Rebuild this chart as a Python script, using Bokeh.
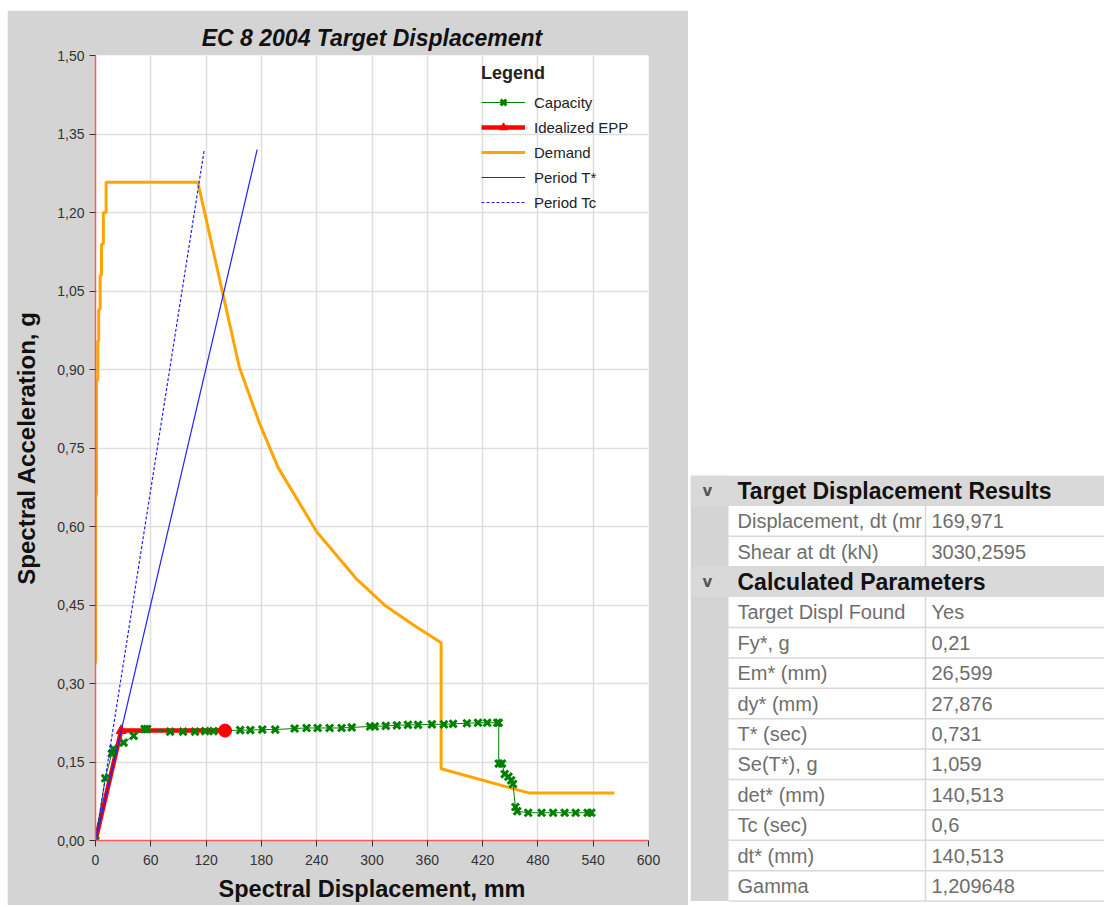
from bokeh.plotting import figure
from bokeh.models import Range1d, Legend, LegendItem, FixedTicker, Spacer
from bokeh.layouts import row, column
from bokeh.embed import file_html
from bokeh.resources import INLINE
from bokeh.core.properties import value

# ---------------- data ----------------
x_ticks = [0, 60, 120, 180, 240, 300, 360, 420, 480, 540, 600]
x_tick_labels = ["0", "60", "120", "180", "240", "300", "360", "420", "480", "540", "600"]
y_ticks = [0.0, 0.15, 0.3, 0.45, 0.6, 0.75, 0.9, 1.05, 1.2, 1.35, 1.5]
y_tick_labels = ["0,00", "0,15", "0,30", "0,45", "0,60", "0,75", "0,90", "1,05", "1,20", "1,35", "1,50"]

capacity_x = [0, 10.6, 17.7, 19.3, 30.5, 41.4, 53.3, 56, 81, 95, 108, 119, 128, 157, 168, 181, 195,
              216, 229, 241, 254, 267, 278, 298, 303, 315, 327, 339, 350, 365, 378, 388, 403, 415,
              425, 436, 437.5, 437.5, 441, 444, 448, 451, 453, 455.6, 457.5, 469.5, 484, 496.5, 509,
              521, 534, 538]
capacity_y = [0, 0.119, 0.166, 0.175, 0.187, 0.200, 0.213, 0.213, 0.208, 0.208, 0.208, 0.209, 0.209,
              0.211, 0.211, 0.212, 0.212, 0.214, 0.215, 0.215, 0.215, 0.215, 0.216, 0.218, 0.218,
              0.219, 0.220, 0.221, 0.221, 0.222, 0.222, 0.223, 0.224, 0.225, 0.225, 0.225, 0.225,
              0.147, 0.147, 0.127, 0.122, 0.115, 0.108, 0.064, 0.056, 0.053, 0.053, 0.053, 0.053,
              0.053, 0.053, 0.053]

epp_x = [0, 27.876, 140.513]
epp_y = [0, 0.21, 0.21]
target_x = [140.513]
target_y = [0.21]

demand_x = [0, 0, 1, 1, 2.5, 2.5, 3.5, 3.5, 5, 5, 6.5, 6.5, 8.5, 8.5, 11.5, 11.5, 111, 156, 178,
            198, 240, 283, 315, 345, 375, 375, 470, 563]
demand_y = [0.338, 0.66, 0.66, 0.88, 0.88, 0.955, 0.955, 1.015, 1.015, 1.08, 1.08, 1.14, 1.14,
            1.20, 1.20, 1.258, 1.258, 0.905, 0.797, 0.713, 0.59, 0.50, 0.448, 0.412, 0.378, 0.137,
            0.091, 0.091]

period_tstar_x = [0, 175.4]
period_tstar_y = [0, 1.32]
period_tc_x = [0, 118]
period_tc_y = [0, 1.32]

sections = ["Target Displacement Results", "Calculated Parameters"]
result_labels = ["Displacement, dt (mr", "Shear at dt (kN)"]
result_values = ["169,971", "3030,2595"]
param_labels = ["Target Displ Found", "Fy*, g", "Em* (mm)", "dy* (mm)", "T* (sec)",
                "Se(T*), g", "det* (mm)", "Tc (sec)", "dt* (mm)", "Gamma"]
param_values = ["Yes", "0,21", "26,599", "27,876", "0,731", "1,059", "140,513", "0,6",
                "140,513", "1,209648"]

# ---------------- chart ----------------
FONT = "Liberation Sans"
GRAY = "#d4d4d4"

p = figure(width=681, height=895, x_range=Range1d(0, 600), y_range=Range1d(0, 1.5),
           output_backend="svg", toolbar_location=None,
           min_border_left=88, min_border_right=40, min_border_top=45, min_border_bottom=65,
           title="EC 8 2004 Target Displacement")
p.border_fill_color = GRAY
p.background_fill_color = "white"
p.outline_line_color = None

p.title.text_font = FONT
p.title.text_font_size = "23px"
p.title.text_font_style = "bold italic"
p.title.align = "center"
p.title.text_color = "#111111"

for ax in (p.xaxis[0], p.yaxis[0]):
    ax.axis_line_color = "#ff5a5a"
    ax.axis_line_width = 1.5
    ax.major_tick_line_color = "#333333"
    ax.major_tick_out = 6
    ax.major_tick_in = 0
    ax.minor_tick_line_color = None
    ax.major_label_text_font = FONT
    ax.major_label_text_font_size = "14px"
    ax.major_label_text_color = "#333333"
    ax.axis_label_text_font = FONT
    ax.axis_label_text_font_style = "bold"
    ax.axis_label_text_color = "#111111"

p.xaxis.axis_label_text_font_size = "23.5px"
p.yaxis.axis_label_text_font_size = "24px"
p.xaxis.ticker = FixedTicker(ticks=x_ticks)
p.yaxis.ticker = FixedTicker(ticks=y_ticks)
p.xaxis.major_label_overrides = dict(zip(x_ticks, x_tick_labels))
p.yaxis.major_label_overrides = dict(zip(y_ticks, y_tick_labels))
p.xaxis.axis_label = "Spectral Displacement, mm"
p.yaxis.axis_label = "Spectral Acceleration, g"
p.xaxis.major_label_standoff = 8
p.xaxis.axis_label_standoff = 8
p.yaxis.major_label_standoff = 5
p.yaxis.axis_label_standoff = 14

p.grid.grid_line_color = "#dedede"
p.grid.grid_line_width = 1.5

r_dem = p.line(demand_x, demand_y, line_color="#ffa500", line_width=3)
r_epp = p.line(epp_x, epp_y, line_color="#ff0000", line_width=4.5)
r_epp_m = p.scatter(epp_x, epp_y, marker="triangle", size=10, fill_color="#ff0000",
                    line_color="#ff0000")
r_cap = p.line(capacity_x, capacity_y, line_color="#008000", line_width=1)
r_cap_m = p.scatter(capacity_x, capacity_y, marker="x", size=10, line_color="#008000",
                    line_width=3)
p.scatter(target_x, target_y, marker="circle", size=13, fill_color="#ff0000", line_color="#ff0000")
r_ts = p.line(period_tstar_x, period_tstar_y, line_color="#2020ff", line_width=1.2)
r_tc = p.line(period_tc_x, period_tc_y, line_color="#2020ff", line_width=1.2, line_dash="3 2")

legend = Legend(items=[
    LegendItem(label="Capacity", renderers=[r_cap, r_cap_m]),
    LegendItem(label="Idealized EPP", renderers=[r_epp, r_epp_m]),
    LegendItem(label="Demand", renderers=[r_dem]),
    LegendItem(label="Period T*", renderers=[r_ts]),
    LegendItem(label="Period Tc", renderers=[r_tc]),
], location=(377, 619))
legend.title = "Legend"
legend.title_text_font = FONT
legend.title_text_font_size = "18px"
legend.title_text_font_style = "bold"
legend.title_text_color = "#222222"
legend.title_standoff = 8
legend.label_text_font = FONT
legend.label_text_font_size = "15px"
legend.label_text_color = "#222222"
legend.glyph_width = 44
legend.glyph_height = 20
legend.label_height = 20
legend.spacing = 5
legend.padding = 9
legend.label_standoff = 9
legend.background_fill_alpha = 0
legend.border_line_alpha = 0
p.add_layout(legend)

# ---------------- property table ----------------
TW, TH, RH = 414, 430, 30.4
STRIP = 38
SEP = 235

t = figure(width=TW, height=TH, x_range=Range1d(0, TW), y_range=Range1d(TH, 0),
           output_backend="svg", toolbar_location=None, min_border=0,
           x_axis_type=None, y_axis_type=None)
t.grid.visible = False
t.outline_line_color = None
t.background_fill_color = "white"
t.border_fill_color = "white"

rows = [("head", sections[0], "")]
rows += [("cell", l, v) for l, v in zip(result_labels, result_values)]
rows += [("head", sections[1], "")]
rows += [("cell", l, v) for l, v in zip(param_labels, param_values)]

head_top, head_bot, head_txt, head_y = [], [], [], []
cell_top, cell_bot, cell_lab, cell_val, cell_y = [], [], [], [], []
for i, (kind, lab, val) in enumerate(rows):
    top, bot = i * RH, (i + 1) * RH
    if kind == "head":
        head_top.append(top); head_bot.append(bot); head_txt.append(lab); head_y.append(top + RH / 2)
    else:
        cell_top.append(top); cell_bot.append(bot); cell_lab.append(lab); cell_val.append(val)
        cell_y.append(top + RH / 2)

t.quad(left=0, right=STRIP, top=0, bottom=len(rows) * RH, fill_color=GRAY, line_color=None)
t.quad(left=0, right=TW, top=head_top, bottom=head_bot, fill_color="#d9d9d9", line_color=None)
t.segment(x0=STRIP, x1=TW, y0=cell_bot, y1=cell_bot, line_color="#d8d8d8", line_width=1.5)
t.segment(x0=SEP, x1=SEP, y0=cell_top, y1=cell_bot, line_color="#d8d8d8", line_width=1.5)

t.text(x=17, y=head_y, text=["v"] * len(head_y), text_font=value("DejaVu Sans"),
       text_font_size="15px", text_font_style="bold", text_color="#555555",
       text_align="center", text_baseline="middle")
t.text(x=47, y=head_y, text=head_txt, text_font=value(FONT), text_font_size="23px",
       text_font_style="bold", text_color="#111111", text_baseline="middle")
t.text(x=47, y=cell_y, text=cell_lab, text_font=value(FONT), text_font_size="20px",
       text_color="#6e6e6e", text_baseline="middle")
t.text(x=SEP + 6, y=cell_y, text=cell_val, text_font=value(FONT), text_font_size="20px",
       text_color="#6e6e6e", text_baseline="middle")

layout = column(Spacer(height=10),
                row(Spacer(width=7), p, Spacer(width=2), column(Spacer(height=465), t)))

open("out.html", "w").write(file_html(layout, INLINE))
